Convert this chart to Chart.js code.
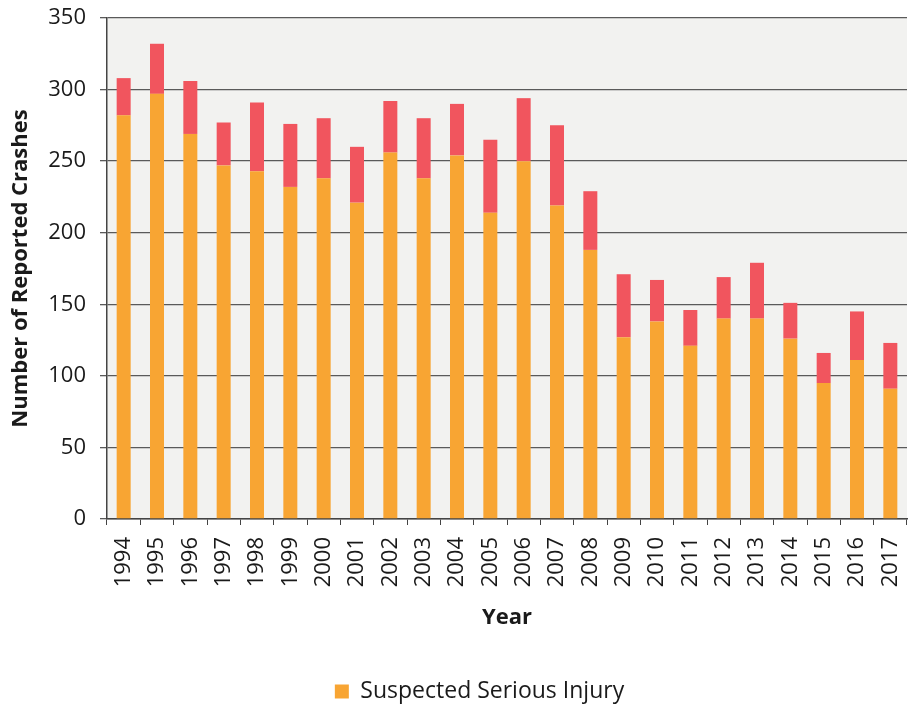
<!DOCTYPE html>
<html>
<head>
<meta charset="utf-8">
<script src="https://cdn.jsdelivr.net/npm/chart.js@4/dist/chart.umd.min.js"></script>
<style>
  html, body { margin: 0; padding: 0; background: #ffffff; }
  #wrap { width: 911px; height: 709px; }
</style>
</head>
<body>
<div id="wrap"><canvas id="chart" width="911" height="709"></canvas></div>
<script>
// Reported crashes by year, split by severity
const years = ['1994','1995','1996','1997','1998','1999','2000','2001','2002','2003','2004','2005',
               '2006','2007','2008','2009','2010','2011','2012','2013','2014','2015','2016','2017'];
const seriousInjury = [282,297,269,247,243,232,238,221,256,238,254,214,250,219,188,127,138,121,140,140,126,95,111,91];
const fatal         = [26,35,37,30,48,44,42,39,36,42,36,51,44,56,41,44,29,25,29,39,25,21,34,32];
const yTicks = [0,50,100,150,200,250,300,350];

const FONT = '"Open Sans", "Liberation Sans", sans-serif';
const INK = '#1a1a1a';

// Light grey fill behind the plotting area
const plotBackground = {
  id: 'plotBackground',
  beforeDraw(chart) {
    const { ctx, chartArea: a } = chart;
    ctx.save();
    ctx.fillStyle = '#f2f2f0';
    ctx.fillRect(a.left, a.top, a.right - a.left, a.bottom - a.top);
    ctx.restore();
  }
};

// Nudge the legend a little to the right of the canvas centre
const legendShift = {
  id: 'legendShift',
  afterLayout(chart) {
    if (chart.legend) {
      chart.legend.left += 26;
      chart.legend.right += 26;
    }
  }
};

new Chart(document.getElementById('chart'), {
  type: 'bar',
  data: {
    labels: years,
    datasets: [
      { label: 'Suspected Serious Injury', data: seriousInjury, backgroundColor: '#f8a533',
        categoryPercentage: 1, barPercentage: 0.42 },
      { label: 'Fatal', data: fatal, backgroundColor: '#f1555e',
        categoryPercentage: 1, barPercentage: 0.42 }
    ]
  },
  options: {
    responsive: false,
    animation: false,
    layout: { padding: { top: 18, right: 4, left: 0, bottom: -4 } },
    plugins: {
      tooltip: { enabled: false },
      legend: {
        position: 'bottom',
        labels: {
          filter: item => item.text === 'Suspected Serious Injury',
          font: { family: FONT, size: 23 },
          color: INK,
          boxWidth: 14, boxHeight: 14, padding: 10
        }
      }
    },
    scales: {
      x: {
        stacked: true,
        offset: true,
        grid: { offset: true, drawOnChartArea: false, drawTicks: true, tickLength: 6, color: '#444' },
        border: { color: '#444', width: 1.5 },
        ticks: { minRotation: 90, maxRotation: 90, autoSkip: false, padding: 12,
                 font: { family: FONT, size: 22 }, color: INK },
        title: { display: true, text: 'Year', font: { family: FONT, size: 22, weight: 'bold' },
                 color: INK, padding: { top: 6, bottom: 39 } },
        afterFit(scale) {
          scale.height = 151;
          scale.paddingLeft = 0;
          scale.paddingRight = 0;
        }
      },
      y: {
        stacked: true,
        min: 0, max: 350,
        afterBuildTicks(scale) { scale.ticks = yTicks.map(v => ({ value: v })); },
        grid: { color: '#5a5a5a', lineWidth: 1.3, tickLength: 7 },
        border: { color: '#444', width: 1.5 },
        ticks: { padding: 14, font: { family: FONT, size: 22 }, color: INK },
        title: { display: true, text: 'Number of Reported Crashes',
                 font: { family: FONT, size: 22, weight: 'bold' }, color: INK, padding: { top: 8, bottom: 0 } },
        afterFit(scale) {
          scale.width = 107;
          scale.paddingTop = 0;
          scale.paddingBottom = 0;
        }
      }
    }
  },
  plugins: [plotBackground, legendShift]
});
</script>
</body>
</html>
